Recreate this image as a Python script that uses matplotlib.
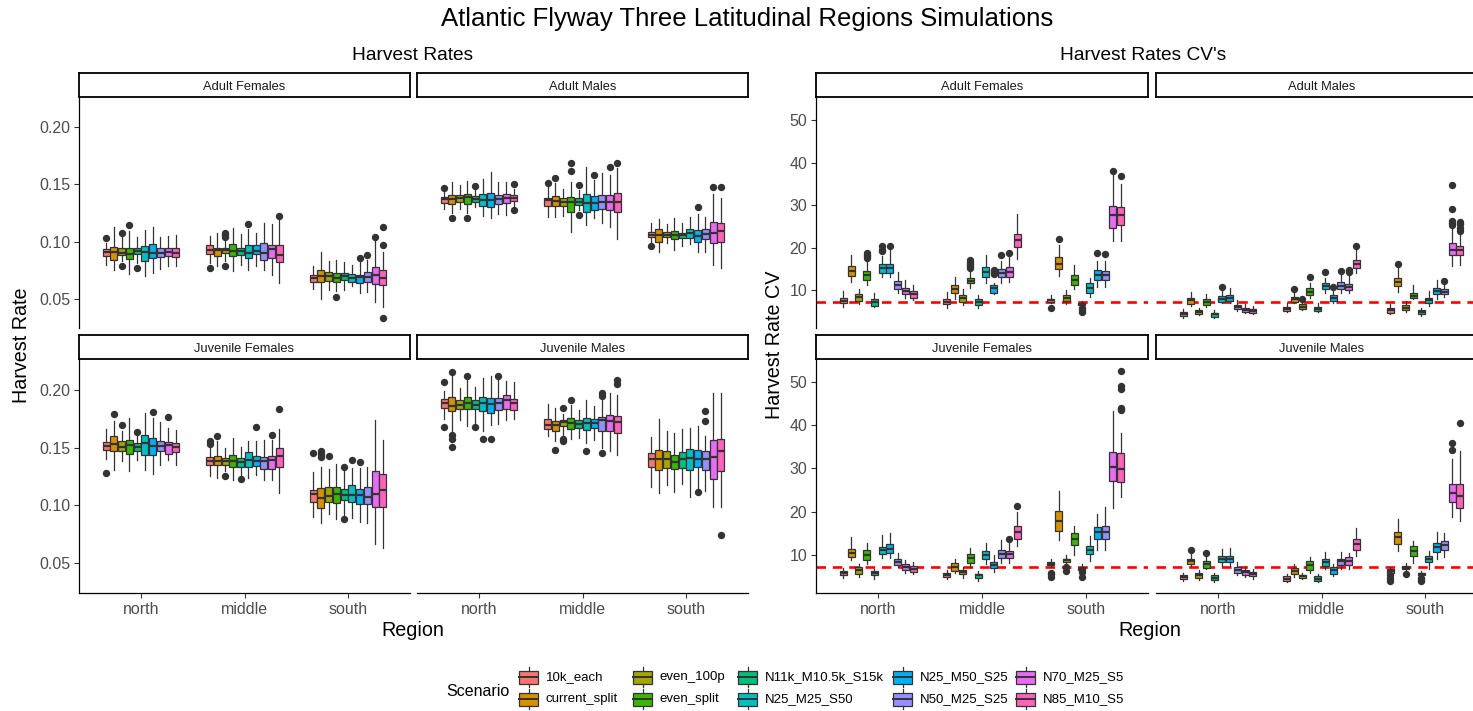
import matplotlib
matplotlib.use("Agg")
import matplotlib.pyplot as plt
from matplotlib.patches import Rectangle
from matplotlib.lines import Line2D

plt.rcParams['font.family'] = ['Liberation Sans', 'DejaVu Sans']

W, H = 1473, 711

scenarios = ["10k_each", "current_split", "even_100p", "even_split", "N11k_M10.5k_S15k",
             "N25_M25_S50", "N25_M50_S25", "N50_M25_S25", "N70_M25_S5", "N85_M10_S5"]
colors = ["#F8766D", "#D89000", "#A3A500", "#39B600", "#00BF7D",
          "#00BFC4", "#00B0F6", "#9590FF", "#E76BF3", "#FF62BC"]
regions = ["north", "middle", "south"]
groups = ["Adult Females", "Adult Males", "Juvenile Females", "Juvenile Males"]
hr_ticks = [0.05, 0.10, 0.15, 0.20]
hr_ticklabels = ["0.05", "0.10", "0.15", "0.20"]
cv_ticks = [10, 20, 30, 40, 50]
cv_ticklabels = ["10", "20", "30", "40", "50"]
cv_target = 7.13

# box stats per scenario: (whisker_low, q1, median, q3, whisker_high)
# ---------------- Harvest rates ----------------
hr_af_north = [(0.0797,0.0869,0.0907,0.0933,0.0986),(0.0747,0.0834,0.0912,0.0956,0.1125),
               (0.0826,0.0880,0.0900,0.0939,0.1043),(0.0712,0.0846,0.0892,0.0947,0.1088),
               (0.0811,0.0893,0.0915,0.0944,0.1036),(0.0694,0.0826,0.0912,0.0965,0.1102),
               (0.0724,0.0855,0.0899,0.0974,0.1131),(0.0759,0.0863,0.0899,0.0941,0.1043),
               (0.0782,0.0869,0.0912,0.0947,0.1049),(0.0782,0.0863,0.0903,0.0944,0.1057)]
hr_af_middle = [(0.0811,0.0890,0.0927,0.0968,0.1049),(0.0782,0.0869,0.0927,0.0947,0.1073),
                (0.0826,0.0897,0.0927,0.0947,0.1015),(0.0738,0.0869,0.0921,0.0976,0.1116),
                (0.0797,0.0885,0.0921,0.0947,0.1063),(0.0753,0.0852,0.0899,0.0968,0.1110),
                (0.0782,0.0890,0.0921,0.0968,0.1073),(0.0753,0.0834,0.0899,0.0991,0.1160),
                (0.0709,0.0852,0.0933,0.0968,0.1151),(0.0640,0.0817,0.0883,0.0968,0.1203)]
hr_af_south = [(0.0584,0.0644,0.0685,0.0711,0.0782),(0.0497,0.0646,0.0700,0.0753,0.0912),
               (0.0578,0.0653,0.0694,0.0732,0.0826),(0.0564,0.0646,0.0685,0.0724,0.0840),
               (0.0578,0.0663,0.0694,0.0721,0.0820),(0.0607,0.0646,0.0682,0.0715,0.0797),
               (0.0549,0.0634,0.0688,0.0709,0.0826),(0.0555,0.0644,0.0688,0.0732,0.0840),
               (0.0471,0.0628,0.0709,0.0776,0.1015),(0.0424,0.0616,0.0680,0.0753,0.0912)]
hr_af_fliers = [(0,0,[0.1029]),(0,2,[0.1078,0.0782]),(0,3,[0.1142]),(0,4,[0.0770]),
                (1,0,[0.0770]),(1,2,[0.1078,0.1058,0.1038,0.0788]),(1,5,[0.1151]),(1,9,[0.1224]),
                (2,3,[0.0511]),(2,6,[0.0860]),(2,7,[0.0878]),(2,8,[0.1040]),(2,9,[0.1131,0.0968,0.0332])]

hr_am_north = [(0.1282,0.1340,0.1369,0.1392,0.1436),(0.1247,0.1328,0.1375,0.1407,0.1523),
               (0.1282,0.1348,0.1378,0.1407,0.1494),(0.1247,0.1328,0.1392,0.1415,0.1532),
               (0.1299,0.1348,0.1375,0.1398,0.1450),(0.1226,0.1311,0.1363,0.1415,0.1546),
               (0.1209,0.1299,0.1363,0.1427,0.1610),(0.1238,0.1325,0.1372,0.1410,0.1523),
               (0.1232,0.1340,0.1378,0.1415,0.1523),(0.1311,0.1357,0.1383,0.1410,0.1456)]
hr_am_middle = [(0.1218,0.1311,0.1363,0.1383,0.1480),(0.1212,0.1311,0.1357,0.1401,0.1509),
                (0.1224,0.1311,0.1348,0.1383,0.1456),(0.1087,0.1261,0.1343,0.1392,0.1523),
                (0.1276,0.1319,0.1348,0.1378,0.1450),(0.1145,0.1255,0.1334,0.1415,0.1654),
                (0.1203,0.1276,0.1340,0.1401,0.1538),(0.1159,0.1282,0.1348,0.1407,0.1601),
                (0.1124,0.1276,0.1348,0.1407,0.1581),(0.1020,0.1255,0.1348,0.1427,0.1645)]
hr_am_south = [(0.0985,0.1037,0.1061,0.1081,0.1159),(0.0912,0.0993,0.1058,0.1110,0.1197),
               (0.0985,0.1037,0.1061,0.1087,0.1151),(0.0926,0.1020,0.1058,0.1093,0.1203),
               (0.0961,0.1034,0.1058,0.1078,0.1159),(0.0975,0.1034,0.1073,0.1110,0.1212),
               (0.0912,0.0999,0.1052,0.1101,0.1241),(0.0912,0.1023,0.1064,0.1110,0.1212),
               (0.0796,0.0986,0.1073,0.1174,0.1412),(0.0767,0.0993,0.1093,0.1160,0.1378)]
hr_am_fliers = [(0,0,[0.1465]),(0,1,[0.1203]),(0,3,[0.1203]),(0,4,[0.1485]),(0,9,[0.1500,0.1276]),
                (1,0,[0.1509]),(1,1,[0.1555]),(1,3,[0.1683,0.1619]),(1,4,[0.1491,0.1229]),
                (1,6,[0.1581]),(1,8,[0.1654]),(1,9,[0.1683]),
                (2,0,[0.0961]),(2,6,[0.1302]),(2,8,[0.1474]),(2,9,[0.1474])]

hr_jf_north = [(0.1400,0.1475,0.1512,0.1550,0.1660),(0.1307,0.1472,0.1530,0.1596,0.1732),
               (0.1380,0.1466,0.1504,0.1553,0.1645),(0.1293,0.1446,0.1524,0.1567,0.1755),
               (0.1394,0.1472,0.1504,0.1536,0.1611),(0.1307,0.1437,0.1539,0.1608,0.1799),
               (0.1273,0.1437,0.1515,0.1579,0.1755),(0.1345,0.1466,0.1510,0.1559,0.1718),
               (0.1388,0.1446,0.1521,0.1550,0.1669),(0.1351,0.1463,0.1504,0.1541,0.1654)]
hr_jf_middle = [(0.1255,0.1351,0.1385,0.1414,0.1510),(0.1235,0.1348,0.1385,0.1423,0.1553),
                (0.1293,0.1348,0.1380,0.1406,0.1495),(0.1221,0.1330,0.1385,0.1434,0.1582),
                (0.1264,0.1336,0.1374,0.1408,0.1504),(0.1235,0.1330,0.1394,0.1460,0.1553),
                (0.1264,0.1342,0.1380,0.1423,0.1553),(0.1221,0.1313,0.1380,0.1414,0.1567),
                (0.1221,0.1313,0.1388,0.1423,0.1567),(0.1111,0.1330,0.1423,0.1495,0.1660)]
hr_jf_south = [(0.0897,0.1033,0.1099,0.1134,0.1287),(0.0851,0.0981,0.1062,0.1149,0.1330),
               (0.0926,0.1027,0.1082,0.1157,0.1313),(0.0880,0.1024,0.1099,0.1163,0.1356),
               (0.0917,0.1047,0.1091,0.1140,0.1293),(0.0888,0.1033,0.1091,0.1174,0.1322),
               (0.0859,0.1010,0.1091,0.1140,0.1322),(0.0851,0.1010,0.1076,0.1157,0.1330),
               (0.0666,0.0990,0.1099,0.1293,0.1735),(0.0628,0.0990,0.1134,0.1273,0.1567)]
hr_jf_fliers = [(0,0,[0.1284]),(0,1,[0.1790]),(0,2,[0.1697]),(0,4,[0.1637]),(0,6,[0.1807]),(0,8,[0.1761]),
                (1,0,[0.1553,0.1533]),(1,1,[0.1596]),(1,2,[0.1255]),(1,4,[0.1224]),(1,6,[0.1680]),
                (1,8,[0.1608]),(1,9,[0.1830]),
                (2,0,[0.1455]),(2,1,[0.1466,0.1443,0.1417]),(2,2,[0.1426]),(2,4,[0.1336,0.0880]),
                (2,5,[0.1391]),(2,6,[0.1374])]

hr_jm_north = [(0.1747,0.1839,0.1882,0.1920,0.1986),(0.1640,0.1813,0.1856,0.1937,0.2131),
               (0.1741,0.1833,0.1865,0.1908,0.2015),(0.1683,0.1833,0.1885,0.1937,0.2088),
               (0.1712,0.1833,0.1871,0.1908,0.2024),(0.1640,0.1813,0.1885,0.1937,0.2102),
               (0.1697,0.1799,0.1879,0.1926,0.2122),(0.1706,0.1827,0.1882,0.1926,0.2088),
               (0.1741,0.1833,0.1914,0.1957,0.2073),(0.1747,0.1827,0.1885,0.1920,0.2064)]
hr_jm_middle = [(0.1596,0.1660,0.1697,0.1747,0.1877),(0.1553,0.1645,0.1697,0.1726,0.1842),
                (0.1611,0.1683,0.1718,0.1735,0.1790),(0.1573,0.1663,0.1712,0.1755,0.1871),
                (0.1582,0.1669,0.1706,0.1741,0.1827),(0.1539,0.1648,0.1712,0.1755,0.1914),
                (0.1562,0.1669,0.1712,0.1749,0.1862),(0.1495,0.1640,0.1735,0.1761,0.1929),
                (0.1466,0.1640,0.1726,0.1784,0.1972),(0.1437,0.1625,0.1721,0.1775,0.1957)]
hr_jm_south = [(0.1163,0.1336,0.1403,0.1452,0.1590),(0.1111,0.1302,0.1400,0.1481,0.1749),
               (0.1172,0.1322,0.1403,0.1472,0.1645),(0.1120,0.1313,0.1374,0.1432,0.1625),
               (0.1186,0.1322,0.1403,0.1461,0.1660),(0.1076,0.1302,0.1408,0.1487,0.1669),
               (0.1149,0.1336,0.1403,0.1475,0.1689),(0.1128,0.1302,0.1403,0.1472,0.1596),
               (0.0989,0.1229,0.1414,0.1567,0.1972),(0.0989,0.1293,0.1466,0.1576,0.1972)]
hr_jm_fliers = [(0,0,[0.2064,0.1674]),(0,1,[0.2154,0.1611,0.1573,0.1501]),(0,3,[0.2116]),(0,4,[0.1680]),
                (0,5,[0.1573]),(0,6,[0.1573]),(0,7,[0.2122]),
                (1,1,[0.1481]),(1,2,[0.1842,0.1573,0.1553]),(1,3,[0.1914]),(1,5,[0.1466]),
                (1,7,[0.1972,0.1949,0.1452]),(1,9,[0.2082,0.2053]),
                (2,6,[0.1114]),(2,7,[0.1813,0.1732]),(2,9,[0.0744])]

# ---------------- Harvest rate CVs ----------------
cv_af_north = [(6.11,6.89,7.51,8.21,9.77),(11.86,13.26,14.43,15.59,18.31),(6.66,7.51,8.37,8.99,10.31),
               (11.32,12.49,13.50,14.58,17.15),(6.11,6.27,7.20,7.82,9.38),(13.03,14.04,15.21,16.22,17.93),
               (13.03,14.04,15.21,16.22,19.48),(9.38,10.16,11.17,12.10,14.20),(8.06,8.99,9.69,10.54,12.49),
               (7.67,8.21,8.99,9.77,11.17)]
cv_af_middle = [(5.88,6.66,7.20,7.82,9.53),(7.82,9.22,10.16,11.24,13.03),(6.50,7.28,8.06,8.76,10.16),
                (10.40,11.71,12.25,12.87,14.20),(5.88,6.50,7.20,7.82,8.76),(11.71,13.11,14.20,15.36,18.31),
                (8.99,9.38,10.39,11.32,11.71),(11.71,13.11,14.04,15.05,16.76),(11.94,13.11,14.20,15.36,17.93),
                (17.38,20.10,21.81,23.21,27.87)]
cv_af_south = [(7.05,7.28,7.67,7.98,8.76),(13.26,14.97,16.22,17.77,20.65),(6.66,7.44,8.21,8.76,10.00),
               (10.16,11.17,12.49,13.65,15.83),(6.27,6.42,6.81,7.05,7.44),(8.45,9.38,10.54,11.71,12.87),
               (10.78,12.49,13.65,14.66,16.76),(10.78,12.49,13.50,14.58,16.76),(21.66,24.69,27.64,29.74,36.96),
               (21.66,25.31,27.64,29.43,35.02)]
cv_af_fliers = [(0,3,[18.70,18.31,17.93,17.54]),(0,5,[20.26,19.50,19.09]),(0,6,[20.41]),
                (1,3,[17.0,16.6,16.2,15.6,15.2]),(1,6,[14.7,14.2,13.8]),(1,7,[18.24]),(1,8,[18.62]),
                (2,0,[5.73]),(2,1,[22.04]),(2,4,[5.8,5.3,4.9]),(2,6,[18.62]),(2,7,[18.47]),
                (2,8,[37.97]),(2,9,[36.88])]

cv_am_north = [(3.55,3.94,4.41,4.95,5.49),(6.27,6.81,7.59,8.06,9.61),(4.10,4.33,4.87,5.26,5.88),
               (6.04,6.50,7.20,7.82,9.15),(3.47,3.78,4.33,4.72,5.26),(7.05,7.28,7.98,8.60,9.77),
               (7.05,7.44,8.14,8.76,10.54),(5.10,5.65,6.11,6.58,7.59),(4.56,4.95,5.42,5.88,6.66),
               (4.33,4.56,5.03,5.49,6.27)]
cv_am_middle = [(4.87,5.10,5.65,6.11,7.05),(7.05,7.28,7.82,8.37,9.38),(5.26,5.49,6.11,6.66,7.44),
                (8.06,8.83,9.61,10.54,11.71),(4.87,5.10,5.65,6.11,7.05),(9.38,10.16,10.93,11.71,12.87),
                (7.05,7.44,8.06,8.83,9.77),(9.38,10.31,11.09,11.86,13.65),(9.38,10.00,10.78,11.55,13.65),
                (14.04,15.21,16.22,17.15,19.48)]
cv_am_south = [(4.48,4.72,5.26,5.88,6.66),(9.61,10.93,11.86,12.87,15.59),(4.95,5.26,5.80,6.50,7.44),
               (7.82,8.06,8.60,9.38,11.32),(3.94,4.33,4.79,5.26,5.88),(6.27,6.89,7.59,8.21,9.77),
               (7.98,8.99,9.77,10.39,12.49),(8.45,8.99,9.61,10.31,11.32),(15.59,18.16,19.48,21.03,24.53),
               (15.98,18.31,19.32,20.41,22.98)]
cv_am_fliers = [(0,5,[10.78]),
                (1,1,[10.31]),(1,2,[7.82]),(1,3,[13.11]),(1,5,[14.35]),(1,6,[10.78]),(1,7,[14.58]),
                (1,8,[14.8,14.3]),(1,9,[20.49]),
                (2,1,[16.22]),(2,7,[12.10]),(2,8,[34.79,29.04,26.3,25.8,25.3]),(2,9,[26.1,25.6,24.5,23.9])]

cv_jf_north = [(4.62,5.17,5.71,6.18,6.96),(8.83,9.45,10.39,11.40,13.98),(4.78,5.56,6.34,7.11,7.74),
               (7.89,8.83,9.84,11.01,12.81),(4.39,5.17,5.71,6.18,6.73),(9.30,10.23,11.01,11.79,14.52),
               (9.30,10.47,11.40,12.42,14.91),(7.11,7.66,8.36,9.06,10.47),(5.79,6.34,7.11,7.82,8.83),
               (5.40,5.95,6.65,7.35,8.28)]
cv_jf_middle = [(4.39,4.78,5.32,5.79,6.34),(5.79,6.18,7.11,8.13,8.91),(4.62,5.40,5.87,6.34,7.11),
                (7.11,8.05,9.22,10.23,11.56),(4.00,4.62,5.17,5.56,6.18),(7.89,8.91,10.00,10.86,12.73),
                (5.95,6.96,7.66,8.36,9.84),(8.13,9.22,10.23,11.17,13.35),(8.13,9.22,10.23,10.86,12.96),
                (12.03,13.74,15.15,16.63,19.98)]
cv_jf_south = [(7.11,7.50,7.89,8.28,9.06),(13.51,15.54,17.88,20.14,24.81),(7.74,8.28,8.67,9.06,10.00),
               (9.84,12.18,13.59,14.91,16.71),(6.18,6.34,6.73,7.11,7.74),(8.52,10.23,11.17,11.95,14.37),
               (11.17,13.59,15.15,16.47,19.36),(11.17,13.59,15.30,16.71,21.15),(20.92,27.15,30.35,33.86,43.37),
               (23.33,26.84,29.96,33.63,38.30)]
cv_jf_fliers = [(1,8,[13.74]),(1,9,[21.38]),
                (2,0,[5.8,5.4,4.9]),(2,2,[7.11,6.2]),(2,4,[5.95,4.9]),
                (2,9,[44.1,43.8,43.5,49.2,48.4,52.6])]

cv_jm_north = [(4.00,4.39,4.78,5.17,5.79),(7.35,7.74,8.44,9.06,10.62),(4.23,4.62,5.17,5.71,6.34),
               (6.57,6.96,7.74,8.44,9.61),(3.61,4.15,4.62,5.17,5.71),(7.35,8.28,8.91,9.69,11.25),
               (7.35,8.28,8.99,9.69,11.56),(5.17,5.79,6.49,7.11,8.28),(4.78,5.17,5.87,6.49,7.35),
               (4.39,4.93,5.40,5.95,6.73)]
cv_jm_middle = [(3.61,4.00,4.46,4.93,5.56),(4.78,5.56,6.18,6.88,7.74),(4.39,4.54,4.93,5.17,5.71),
                (5.79,6.34,7.50,8.44,9.45),(3.61,4.00,4.39,4.93,5.56),(6.73,7.35,8.28,9.06,10.62),
                (4.93,5.56,6.34,7.11,7.89),(6.73,7.50,8.44,9.06,10.62),(6.73,7.50,8.52,9.45,10.39),
                (9.69,11.17,12.42,13.74,16.08)]
cv_jm_south = [(5.56,5.79,6.18,6.57,7.11),(10.86,12.57,14.13,15.30,18.19),(6.34,6.57,6.96,7.35,8.13),
               (8.05,9.61,10.78,11.95,13.12),(4.93,5.17,5.48,5.71,6.18),(6.73,8.28,8.99,9.69,10.78),
               (8.91,10.62,11.79,12.81,15.30),(9.45,11.17,12.18,13.20,14.91),(18.65,22.32,24.27,26.45,32.30),
               (17.88,20.76,23.72,26.45,34.02)]
cv_jm_fliers = [(0,1,[11.17]),(0,3,[10.47]),
                (2,0,[5.17,4.6,3.8]),(2,2,[5.40]),(2,4,[4.6,4.2,4.0]),(2,8,[35.97,34.25]),(2,9,[40.49])]

# ---------------- drawing ----------------
fig = plt.figure(figsize=(W / 100, H / 100), dpi=100)
fig.patch.set_facecolor("white")


def add_px_axes(x0, y0, x1, y1):
    return fig.add_axes([x0 / W, 1 - y1 / H, (x1 - x0) / W, (y1 - y0) / H])


TICK_COL = "#4D4D4D"
EDGE = "#333333"


def draw_facet(ax, data, fliers, ylim, yticks, yticklabels, show_y, show_x, hline=None):
    dodge = 0.75 / len(scenarios)
    bw = dodge * 0.9
    flier_map = {(r, s): v for r, s, v in fliers}
    if hline is not None:
        ax.axhline(hline, color="#FF0000", lw=1.9, ls=(0, (3.6, 2.6)), zorder=1)
    for r, reg in enumerate(data):
        for s, (lo, q1, med, q3, hi) in enumerate(reg):
            pos = (r + 1) - 0.375 + dodge / 2 + s * dodge
            stats = [dict(whislo=lo, q1=q1, med=med, q3=q3, whishi=hi,
                          fliers=flier_map.get((r, s), []))]
            ax.bxp(stats, positions=[pos], widths=bw, patch_artist=True, showcaps=False,
                   manage_ticks=False,
                   boxprops=dict(facecolor=colors[s], edgecolor=EDGE, linewidth=0.9),
                   medianprops=dict(color=EDGE, linewidth=1.6, solid_capstyle="butt"),
                   whiskerprops=dict(color=EDGE, linewidth=0.9),
                   flierprops=dict(marker="o", markerfacecolor=EDGE, markeredgecolor=EDGE,
                                   markersize=4.3, linestyle="none"))
    ax.set_xlim(0.4, 3.6)
    ax.set_ylim(*ylim)
    for sp in ["top", "right"]:
        ax.spines[sp].set_visible(False)
    ax.spines["left"].set_visible(show_y)
    ax.spines["bottom"].set_visible(show_x)
    for sp in ["left", "bottom"]:
        ax.spines[sp].set_color("black")
        ax.spines[sp].set_linewidth(0.9)
    ax.tick_params(axis="both", colors="#333333", labelcolor=TICK_COL, labelsize=11.5,
                   length=3.8, width=0.8, pad=2.5)
    if show_y:
        ax.set_yticks(yticks)
        ax.set_yticklabels(yticklabels)
    else:
        ax.set_yticks([])
    if show_x:
        ax.set_xticks([1, 2, 3])
        ax.set_xticklabels(regions)
    else:
        ax.set_xticks([])
    ax.set_facecolor("white")


def strip(x0, x1, y0, y1, label):
    sax = add_px_axes(x0, y0, x1, y1)
    sax.set_xticks([])
    sax.set_yticks([])
    for sp in sax.spines.values():
        sp.set_color("black")
        sp.set_linewidth(1.3)
    sax.text(0.5, 0.5, label, ha="center", va="center_baseline", fontsize=9.3, color="#1A1A1A",
             transform=sax.transAxes)


hr_data = [
    (hr_af_north, hr_af_middle, hr_af_south, hr_af_fliers),
    (hr_am_north, hr_am_middle, hr_am_south, hr_am_fliers),
    (hr_jf_north, hr_jf_middle, hr_jf_south, hr_jf_fliers),
    (hr_jm_north, hr_jm_middle, hr_jm_south, hr_jm_fliers),
]
cv_data = [
    (cv_af_north, cv_af_middle, cv_af_south, cv_af_fliers),
    (cv_am_north, cv_am_middle, cv_am_south, cv_am_fliers),
    (cv_jf_north, cv_jf_middle, cv_jf_south, cv_jf_fliers),
    (cv_jm_north, cv_jm_middle, cv_jm_south, cv_jm_fliers),
]

rows = [(73, 97, 328), (335, 359, 593)]
left_cols = [(79, 410), (417, 748)]
right_cols = [(816, 1148), (1156, 1487)]

for i in range(4):
    r, c = divmod(i, 2)
    sy0, py0, py1 = rows[r]
    # harvest rate
    x0, x1 = left_cols[c]
    ax = add_px_axes(x0, py0, x1, py1)
    n, m, s_, fl = hr_data[i]
    draw_facet(ax, [n, m, s_], fl, (0.0243, 0.2265), hr_ticks, hr_ticklabels,
               show_y=(c == 0), show_x=(r == 1))
    strip(x0, x1, sy0, py0, groups[i])
    # CV
    x0, x1 = right_cols[c]
    ax = add_px_axes(x0, py0, x1, py1)
    n, m, s_, fl = cv_data[i]
    draw_facet(ax, [n, m, s_], fl, (1.1, 55.4), cv_ticks, cv_ticklabels,
               show_y=(c == 0), show_x=(r == 1), hline=cv_target)
    strip(x0, x1, sy0, py0, groups[i])

# overlay for titles & legend (pixel coordinates)
ov = fig.add_axes([0, 0, 1, 1], zorder=10)
ov.set_xlim(0, W)
ov.set_ylim(H, 0)
ov.axis("off")

ov.text(747, 19, "Atlantic Flyway Three Latitudinal Regions Simulations", ha="center", va="center",
        fontsize=18.5, color="black")
ov.text(413, 56, "Harvest Rates", ha="center", va="center", fontsize=13.8, color="black")
ov.text(1143, 56, "Harvest Rates CV's", ha="center", va="center", fontsize=13.8, color="black")
ov.text(22, 345, "Harvest Rate", ha="center", va="center", rotation=90, fontsize=14.2, color="black")
ov.text(775, 345, "Harvest Rate CV", ha="center", va="center", rotation=90, fontsize=14.2, color="black")
ov.text(413, 630, "Region", ha="center", va="center", fontsize=14.2, color="black")
ov.text(1150, 630, "Region", ha="center", va="center", fontsize=14.2, color="black")

# legend
ov.text(446, 692, "Scenario", ha="left", va="center", fontsize=11.5, color="black")
key_x = [519, 633, 738, 893, 1016]
row_y = [677, 699]
kw = 19
for idx, name in enumerate(scenarios):
    col, row = divmod(idx, 2)
    kx = key_x[col]
    cy = row_y[row]
    ov.add_patch(Rectangle((kx, cy - 6.5), kw, 13, facecolor=colors[idx], edgecolor=EDGE, lw=0.9))
    ov.add_line(Line2D([kx, kx + kw], [cy, cy], color=EDGE, lw=1.4))
    ov.add_line(Line2D([kx + kw / 2, kx + kw / 2], [cy - 10, cy - 6.5], color=EDGE, lw=0.9))
    ov.add_line(Line2D([kx + kw / 2, kx + kw / 2], [cy + 6.5, cy + 10], color=EDGE, lw=0.9))
    ov.text(kx + kw + 8, cy, name, ha="left", va="center", fontsize=9.5, color="black")

fig.savefig("out.png", dpi=100, facecolor="white")
